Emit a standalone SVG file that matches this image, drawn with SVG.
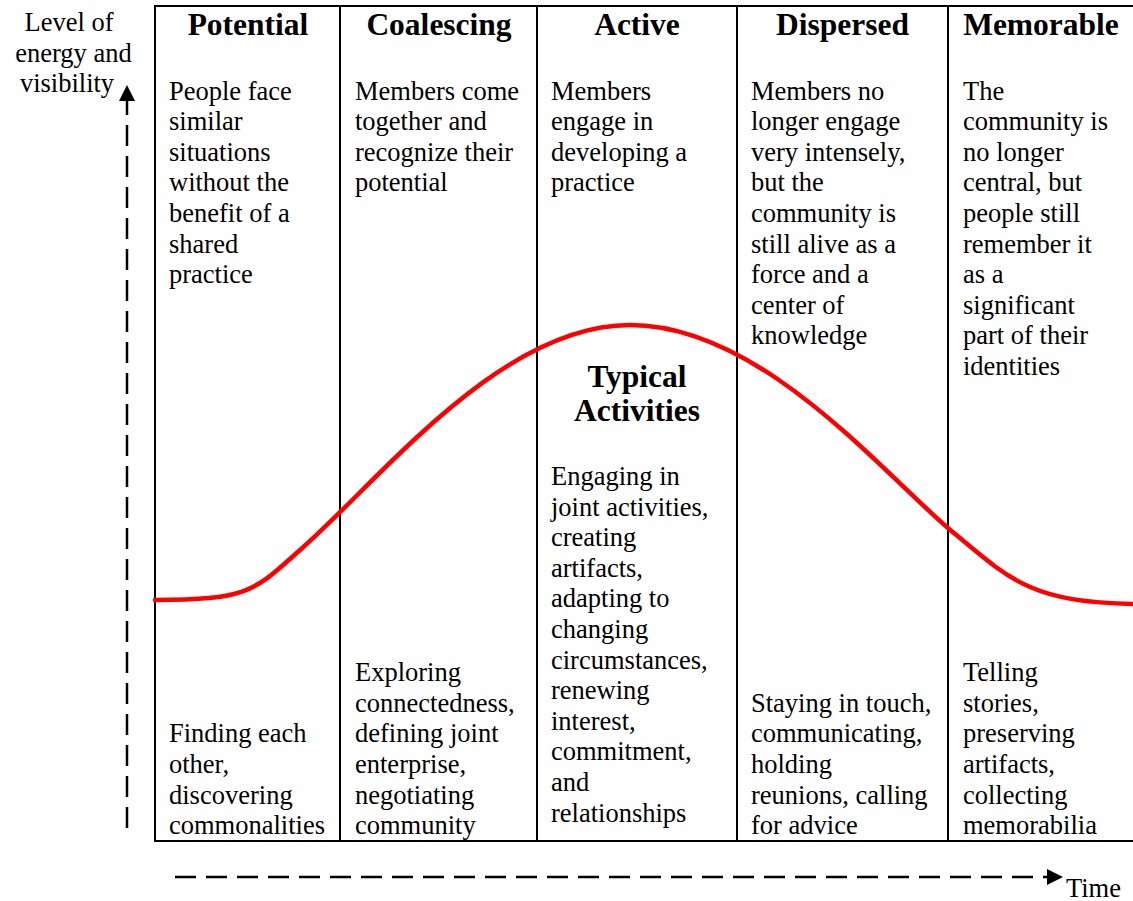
<svg xmlns="http://www.w3.org/2000/svg" width="1133" height="901" viewBox="0 0 1133 901">
<defs>
<marker id="ah" markerUnits="userSpaceOnUse" markerWidth="16" markerHeight="16" refX="0" refY="8" orient="auto" viewBox="0 0 16 16"><path d="M0,0 L16,8 L0,16 z" fill="#000"/></marker>
</defs>
<style>
.t{font-family:"Liberation Serif","Times New Roman",serif;font-size:26.5px;fill:#000}
.m{text-anchor:middle}
.h{font-family:"Liberation Serif","Times New Roman",serif;font-size:31.5px;font-weight:bold;text-anchor:middle;fill:#000}
.frame{stroke:#000;stroke-width:2;fill:none}
.dash{stroke:#000;stroke-width:2.5;stroke-dasharray:21 10;fill:none}
.curve{stroke:#f00;stroke-width:4.5;fill:none;stroke-linecap:round}
</style>
<rect width="1133" height="901" fill="#fff"/>
<g id="frame">
<path class="frame" d="M1133,6 H155 V841 H1133"/>
<line class="frame" x1="340" y1="6" x2="340" y2="841"/>
<line class="frame" x1="537" y1="6" x2="537" y2="841"/>
<line class="frame" x1="737" y1="6" x2="737" y2="841"/>
<line class="frame" x1="948" y1="6" x2="948" y2="841"/>
</g>
<g id="axis-labels">
<text class="t m"><tspan x="69" y="31">Level of</tspan><tspan x="73.5" y="61.6">energy and</tspan><tspan x="67" y="92.2">visibility</tspan></text>
<text class="t" x="1066" y="897">Time</text>
</g>
<g id="col-potential">
<text class="h" x="248" y="35">Potential</text>
<text class="t"><tspan x="169" y="99.5">People face</tspan><tspan x="169" y="130.1">similar</tspan><tspan x="169" y="160.7">situations</tspan><tspan x="169" y="191.3">without the</tspan><tspan x="169" y="221.9">benefit of a</tspan><tspan x="169" y="252.5">shared</tspan><tspan x="169" y="283.1">practice</tspan></text>
<text class="t"><tspan x="169" y="742.3">Finding each</tspan><tspan x="169" y="772.9">other,</tspan><tspan x="169" y="803.5">discovering</tspan><tspan x="169" y="834.1">commonalities</tspan></text>
</g>
<g id="col-coalescing">
<text class="h" x="439" y="35">Coalescing</text>
<text class="t"><tspan x="355" y="99.5">Members come</tspan><tspan x="355" y="130.1">together and</tspan><tspan x="355" y="160.7">recognize their</tspan><tspan x="355" y="191.3">potential</tspan></text>
<text class="t"><tspan x="355" y="681.1">Exploring</tspan><tspan x="355" y="711.7">connectedness,</tspan><tspan x="355" y="742.3">defining joint</tspan><tspan x="355" y="772.9">enterprise,</tspan><tspan x="355" y="803.5">negotiating</tspan><tspan x="355" y="834.1">community</tspan></text>
</g>
<g id="col-active">
<text class="h" x="637" y="35">Active</text>
<text class="t"><tspan x="551" y="99.5">Members</tspan><tspan x="551" y="130.1">engage in</tspan><tspan x="551" y="160.7">developing a</tspan><tspan x="551" y="191.3">practice</tspan></text>
<text class="h"><tspan x="637" y="387">Typical</tspan><tspan x="637" y="421">Activities</tspan></text>
<text class="t"><tspan x="551" y="485">Engaging in</tspan><tspan x="551" y="515.6">joint activities,</tspan><tspan x="551" y="546.2">creating</tspan><tspan x="551" y="576.8">artifacts,</tspan><tspan x="551" y="607.4">adapting to</tspan><tspan x="551" y="638">changing</tspan><tspan x="551" y="668.6">circumstances,</tspan><tspan x="551" y="699.2">renewing</tspan><tspan x="551" y="729.8">interest,</tspan><tspan x="551" y="760.4">commitment,</tspan><tspan x="551" y="791">and</tspan><tspan x="551" y="821.6">relationships</tspan></text>
</g>
<g id="col-dispersed">
<text class="h" x="842.5" y="35">Dispersed</text>
<text class="t"><tspan x="751" y="99.5">Members no</tspan><tspan x="751" y="130.1">longer engage</tspan><tspan x="751" y="160.7">very intensely,</tspan><tspan x="751" y="191.3">but the</tspan><tspan x="751" y="221.9">community is</tspan><tspan x="751" y="252.5">still alive as a</tspan><tspan x="751" y="283.1">force and a</tspan><tspan x="751" y="313.7">center of</tspan><tspan x="751" y="344.3">knowledge</tspan></text>
<text class="t"><tspan x="751" y="711.7">Staying in touch,</tspan><tspan x="751" y="742.3">communicating,</tspan><tspan x="751" y="772.9">holding</tspan><tspan x="751" y="803.5">reunions, calling</tspan><tspan x="751" y="834.1">for advice</tspan></text>
</g>
<g id="col-memorable">
<text class="h" x="1041" y="35">Memorable</text>
<text class="t"><tspan x="963" y="99.5">The</tspan><tspan x="963" y="130.1">community is</tspan><tspan x="963" y="160.7">no longer</tspan><tspan x="963" y="191.3">central, but</tspan><tspan x="963" y="221.9">people still</tspan><tspan x="963" y="252.5">remember it</tspan><tspan x="963" y="283.1">as a</tspan><tspan x="963" y="313.7">significant</tspan><tspan x="963" y="344.3">part of their</tspan><tspan x="963" y="374.9">identities</tspan></text>
<text class="t"><tspan x="963" y="681.1">Telling</tspan><tspan x="963" y="711.7">stories,</tspan><tspan x="963" y="742.3">preserving</tspan><tspan x="963" y="772.9">artifacts,</tspan><tspan x="963" y="803.5">collecting</tspan><tspan x="963" y="834.1">memorabilia</tspan></text>
</g>
<g id="curve">
<path class="curve" d="M155,600 C250,600 255,590 300,550 C380,480 500,325 630,325 C760,325 880,470 948,528 C1010,580 1030,602 1133,604"/>
</g>
<g id="connectors">
<line class="dash" x1="127" y1="828" x2="127" y2="101" marker-end="url(#ah)"/>
<line class="dash" x1="175" y1="877" x2="1047" y2="877" marker-end="url(#ah)"/>
</g>
</svg>
